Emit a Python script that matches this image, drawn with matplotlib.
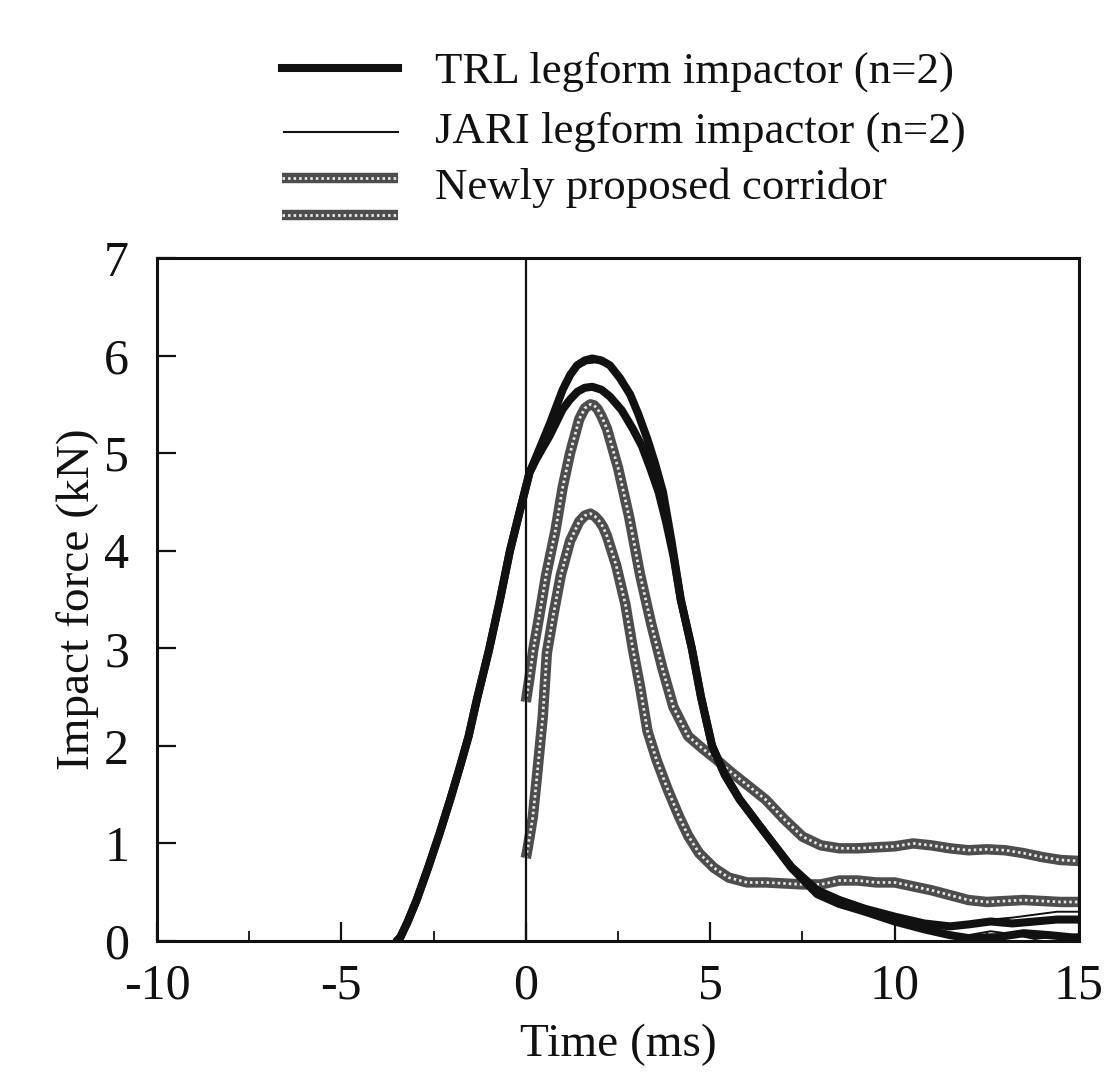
import matplotlib
matplotlib.use("Agg")
import matplotlib.pyplot as plt
from matplotlib.lines import Line2D
from matplotlib.ticker import MultipleLocator

plt.rcParams['font.family'] = ['Liberation Serif', 'DejaVu Serif']
plt.rcParams['axes.unicode_minus'] = False

# ---- data: time (ms) / impact force (kN) ----
rise_t = [-3.5, -3.4, -3.2, -2.96, -2.65, -2.34, -2.05, -1.79, -1.55, -1.33,
          -1.0, -0.7, -0.43, -0.2, 0.1]
rise_f = [0.0, 0.04, 0.2, 0.42, 0.75, 1.1, 1.45, 1.78, 2.1, 2.47,
          2.98, 3.5, 4.0, 4.35, 4.8]

trl1_t = rise_t + [0.3, 0.65, 1.0, 1.2, 1.39, 1.6, 1.8, 2.05, 2.28, 2.55, 2.83,
                   3.05, 3.29, 3.5, 3.72, 3.95, 4.2, 4.5, 4.75, 5.05, 5.4, 5.8,
                   6.5, 7.2, 7.9, 8.5, 9.2, 10.0, 10.8, 11.5, 12.0, 12.8, 13.5,
                   14.2, 15.0]
trl1_f = rise_f + [4.98, 5.3, 5.65, 5.8, 5.9, 5.95, 5.97, 5.95, 5.9, 5.77, 5.6,
                   5.4, 5.15, 4.9, 4.6, 4.1, 3.5, 3.0, 2.5, 2.0, 1.7, 1.45,
                   1.1, 0.75, 0.48, 0.38, 0.3, 0.2, 0.12, 0.06, 0.03, 0.04, 0.08,
                   0.06, 0.03]

trl2_t = rise_t + [0.3, 0.65, 1.0, 1.2, 1.4, 1.6, 1.8, 2.05, 2.28, 2.6, 2.9,
                   3.15, 3.37, 3.6, 3.8, 4.0, 4.2, 4.5, 4.75, 5.05, 5.4, 5.8,
                   6.5, 7.2, 7.9, 8.5, 9.2, 10.0, 10.8, 11.5, 12.0, 12.6, 13.2,
                   13.8, 14.4, 15.0]
trl2_f = rise_f + [4.95, 5.18, 5.45, 5.55, 5.63, 5.67, 5.68, 5.65, 5.58, 5.44, 5.25,
                   5.07, 4.85, 4.6, 4.3, 3.95, 3.5, 3.0, 2.5, 2.0, 1.7, 1.45,
                   1.1, 0.76, 0.52, 0.42, 0.33, 0.25, 0.18, 0.15, 0.17, 0.2, 0.18,
                   0.2, 0.22, 0.22]

jari1_t = rise_t + [0.3, 0.65, 1.0, 1.2, 1.4, 1.65, 1.9, 2.2, 2.5, 2.7, 2.9,
                    3.1, 3.3, 3.5, 3.75, 3.95, 4.2, 4.5, 4.75, 5.05, 5.4, 5.8,
                    6.5, 7.2, 7.9, 8.5, 9.2, 10.0, 10.8, 11.5, 12.0, 12.6, 13.2,
                    13.8, 14.4, 15.0]
jari1_f = rise_f + [4.97, 5.28, 5.62, 5.77, 5.87, 5.92, 5.93, 5.9, 5.8, 5.68, 5.55,
                    5.4, 5.2, 4.95, 4.62, 4.15, 3.55, 3.05, 2.52, 2.02, 1.72, 1.48,
                    1.12, 0.78, 0.55, 0.45, 0.35, 0.27, 0.2, 0.13, 0.17, 0.22, 0.24,
                    0.27, 0.3, 0.3]

jari2_t = rise_t + [0.3, 0.65, 1.0, 1.2, 1.4, 1.6, 1.85, 2.05, 2.3, 2.6, 2.9,
                    3.15, 3.37, 3.6, 3.8, 4.0, 4.2, 4.5, 4.75, 5.05, 5.4, 5.8,
                    6.5, 7.2, 7.9, 8.5, 9.2, 10.0, 10.8, 11.5, 12.0, 12.6, 13.2,
                    13.8, 14.4, 15.0]
jari2_f = rise_f + [4.94, 5.2, 5.47, 5.57, 5.64, 5.68, 5.7, 5.67, 5.6, 5.46, 5.28,
                    5.1, 4.88, 4.63, 4.35, 3.98, 3.5, 2.98, 2.48, 1.98, 1.68, 1.42,
                    1.08, 0.72, 0.45, 0.35, 0.28, 0.18, 0.1, 0.06, 0.06, 0.1, 0.07,
                    0.02, 0.05, 0.07]

# corridor bounds
upper_t = [0.0, 0.1, 0.2, 0.35, 0.55, 0.8, 1.0, 1.2, 1.45, 1.6, 1.75, 1.85, 1.95,
           2.05, 2.2, 2.5, 2.8, 3.1, 3.4, 3.7, 4.0, 4.4, 4.8, 5.2, 5.6, 6.0, 6.5,
           7.0, 7.5, 8.0, 8.5, 9.0, 9.5, 10.0, 10.5, 11.0, 11.5, 12.0, 12.5, 13.0,
           13.5, 14.0, 14.5, 15.0]
upper_f = [2.45, 2.7, 2.98, 3.3, 3.75, 4.2, 4.65, 5.0, 5.35, 5.46, 5.5, 5.49, 5.45,
           5.38, 5.25, 4.85, 4.35, 3.75, 3.25, 2.8, 2.4, 2.1, 1.97, 1.85, 1.72, 1.6,
           1.45, 1.25, 1.07, 0.98, 0.95, 0.95, 0.96, 0.97, 1.0, 0.98, 0.95, 0.93,
           0.94, 0.93, 0.9, 0.86, 0.83, 0.82]

lower_t = [0.0, 0.05, 0.19, 0.3, 0.46, 0.57, 0.75, 0.95, 1.2, 1.45, 1.6, 1.75,
           1.88, 2.0, 2.1, 2.2, 2.45, 2.7, 2.9, 3.1, 3.3, 3.55, 3.85, 4.15, 4.4,
           4.7, 5.1, 5.5, 6.0, 6.5, 7.0, 7.5, 8.0, 8.5, 9.0, 9.5, 10.0, 10.5, 11.0,
           11.5, 12.0, 12.5, 13.0, 13.5, 14.0, 14.5, 15.0]
lower_f = [0.85, 0.95, 1.27, 1.68, 2.3, 2.95, 3.35, 3.75, 4.1, 4.3, 4.36, 4.38,
           4.35, 4.3, 4.24, 4.15, 3.85, 3.45, 3.0, 2.6, 2.15, 1.85, 1.55, 1.28, 1.08,
           0.9, 0.75, 0.65, 0.6, 0.6, 0.59, 0.58, 0.58, 0.62, 0.62, 0.6, 0.6, 0.56,
           0.52, 0.47, 0.42, 0.4, 0.41, 0.42, 0.41, 0.4, 0.4]

x_ticks = [-10, -5, 0, 5, 10, 15]
y_ticks = [0, 1, 2, 3, 4, 5, 6, 7]

legend_labels = ["TRL legform impactor (n=2)",
                 "JARI legform impactor (n=2)",
                 "Newly proposed corridor"]

# ---- styles ----
INK = '#111111'
THICK = dict(color=INK, lw=5.8, solid_capstyle='round', solid_joinstyle='round')
THIN = dict(color=INK, lw=1.4, solid_joinstyle='round')


def corridor(target, x, y, transform=None):
    """Draw a corridor bound as a grey braided band."""
    kw = {} if transform is None else {'transform': transform}
    base = Line2D(x, y, color='#4d4d4d', lw=7.5, solid_capstyle='butt',
                  solid_joinstyle='round', **kw)
    hatch = Line2D(x, y, color='#e8e8e8', lw=2.0, linestyle=(0, (0.9, 1.1)),
                   dash_capstyle='butt', dash_joinstyle='round', **kw)
    if hasattr(target, 'add_line'):
        target.add_line(base)
        target.add_line(hatch)
    else:
        target.add_artist(base)
        target.add_artist(hatch)


fig = plt.figure(figsize=(11.19, 10.89), dpi=100)
ax = fig.add_axes([0.1403, 0.1359, 0.824, 0.6272])

ax.set_xlim(-10, 15)
ax.set_ylim(0, 7)

corridor(ax, upper_t, upper_f)
corridor(ax, lower_t, lower_f)

ax.plot(trl1_t, trl1_f, **THICK)
ax.plot(trl2_t, trl2_f, **THICK)
ax.plot(jari1_t, jari1_f, **THIN)
ax.plot(jari2_t, jari2_f, **THIN)

ax.axvline(0, color=INK, lw=1.6)

for s in ax.spines.values():
    s.set_linewidth(2.2)
    s.set_color(INK)

ax.set_xticks(x_ticks)
ax.set_yticks(y_ticks)
ax.xaxis.set_minor_locator(MultipleLocator(2.5))
ax.tick_params(axis='both', which='major', direction='in', length=14, width=1.6,
               labelsize=36, colors=INK)
ax.tick_params(axis='x', which='minor', direction='in', length=7, width=1.3,
               colors=INK)
ax.tick_params(axis='x', which='major', pad=16)
ax.tick_params(axis='y', which='major', pad=20)
ax.tick_params(top=False, right=False, which='both')

ax.set_xlabel("Time (ms)", fontsize=34, labelpad=10, color=INK)
ax.set_ylabel("Impact force (kN)", fontsize=34, labelpad=4, color=INK)

# ---- legend drawn in figure space ----
fig.add_artist(Line2D([0.252, 0.356], [1 - 68 / 1089] * 2, color=INK, lw=5.8,
                      transform=fig.transFigure))
fig.add_artist(Line2D([0.254, 0.356], [1 - 132 / 1089] * 2, color=INK, lw=1.5,
                      transform=fig.transFigure))
corridor(fig, [0.252, 0.356], [1 - 178 / 1089] * 2, transform=fig.transFigure)
corridor(fig, [0.252, 0.356], [1 - 215 / 1089] * 2, transform=fig.transFigure)

for label, py in zip(legend_labels, [72, 132, 188]):
    fig.text(435 / 1119, 1 - py / 1089, label, fontsize=32.3, va='center', ha='left',
             color=INK)

fig.savefig("out.png", dpi=100, facecolor='white')
